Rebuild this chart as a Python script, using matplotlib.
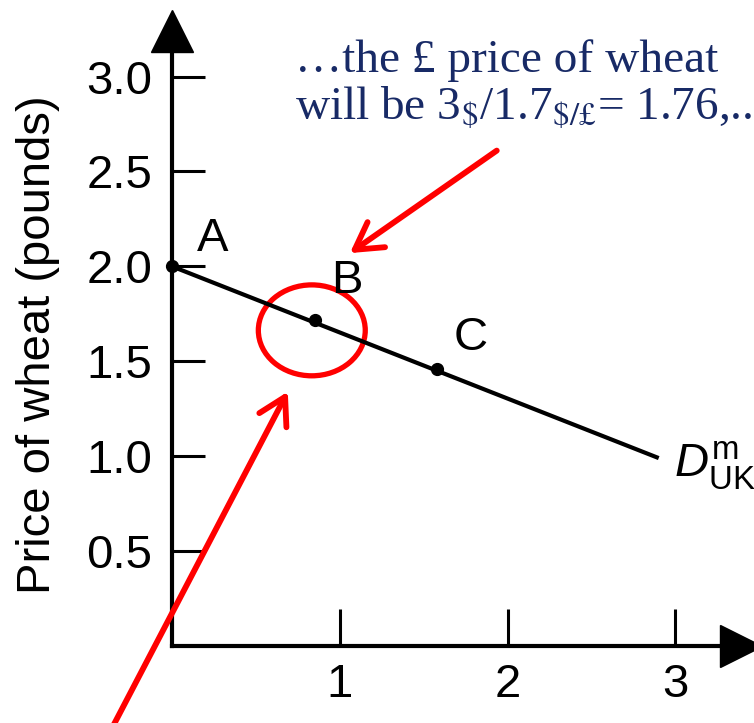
import matplotlib
matplotlib.use('Agg')
import matplotlib.pyplot as plt
from matplotlib.patches import Ellipse

# Demand line for UK wheat imports (quantity, price in pounds)
demand_q = [0, 2.9]
demand_p = [2.0, 0.99]

# Marked points A, B, C
point_labels = ['A', 'B', 'C']
point_q = [0, 0.85, 1.58]
point_p = [2.0, 1.72, 1.46]

# Axis ticks
x_ticks = [1, 2, 3]
y_ticks = [0.5, 1.0, 1.5, 2.0, 2.5, 3.0]

# Fonts
plt.rcParams['font.family'] = 'Liberation Sans'
plt.rcParams['mathtext.fontset'] = 'custom'
plt.rcParams['mathtext.rm'] = 'Liberation Sans'
plt.rcParams['mathtext.it'] = 'Liberation Sans:italic'

fig = plt.figure(figsize=(7.54, 7.23), dpi=100)
ax = fig.add_axes([0.2281, 0.1065, 0.7546, 0.8506])

ax.set_xlim(0, 3.39)
ax.set_ylim(0, 3.24)

# Demand curve and points
ax.plot(demand_q, demand_p, color='black', lw=3, solid_capstyle='butt')
ax.plot(point_q, point_p, 'o', color='black', ms=8.5, clip_on=False)

# Point labels
label_pos = [(0.15, 2.08), (0.95, 1.86), (1.68, 1.56)]
for lab, (lx, ly) in zip(point_labels, label_pos):
    ax.text(lx, ly, lab, fontsize=34, ha='left', va='baseline')

ax.text(2.99, 0.89, r'$D^{\mathrm{m}}_{\mathrm{UK}}$', fontsize=34,
        ha='left', va='baseline')

# Red circle around B
ax.add_patch(Ellipse((0.833, 1.663), 0.637, 0.479, fill=False,
                     edgecolor='red', lw=3.8, clip_on=False))

# Red arrows
arrow_style = dict(arrowstyle='->,head_length=0.95,head_width=0.55',
                   mutation_scale=20, color='red', lw=4.2,
                   capstyle='round', joinstyle='round',
                   shrinkA=0, shrinkB=0)
ax.annotate('', xy=(1.06, 2.07), xytext=(1.935, 2.61),
            arrowprops=arrow_style)
ax.annotate('', xy=(0.69, 1.34), xytext=(-0.35, -0.42),
            arrowprops=arrow_style)

# Axes styling
for side in ['top', 'right']:
    ax.spines[side].set_visible(False)
for side in ['left', 'bottom']:
    ax.spines[side].set_linewidth(3)

ax.set_xticks(x_ticks)
ax.set_xticklabels([str(t) for t in x_ticks])
ax.set_yticks(y_ticks)
ax.set_yticklabels(['%.1f' % t for t in y_ticks])

ax.tick_params(axis='y', direction='in', length=24, width=2.2, pad=14,
               labelsize=34)
ax.tick_params(axis='x', direction='in', length=27, width=2.2, pad=12,
               labelsize=34)

# Arrow heads on the axes
ax.plot(0, 1, '^', ms=30, color='black', transform=ax.transAxes,
        clip_on=False)
ax.plot(1, 0, '>', ms=30, color='black', transform=ax.transAxes,
        clip_on=False)

# Y label
fig.text(38 / 754, 1 - 345 / 723, 'Price of wheat (pounds)', rotation=90,
         ha='center', va='center', fontsize=34)

# Annotation text
navy = '#182a66'
fig.text(295 / 754, 1 - 72 / 723, '…the £ price of wheat',
         family='Liberation Serif', fontsize=34, color=navy,
         ha='left', va='baseline')
fig.text(295 / 754, 1 - 120 / 723, 'will be 3$_{\\$}$/1.7$_{\\$/£}$= 1.76,..',
         family='Liberation Serif', fontsize=34, color=navy,
         ha='left', va='baseline', math_fontfamily='stix')

fig.savefig('out.png', dpi=100)
